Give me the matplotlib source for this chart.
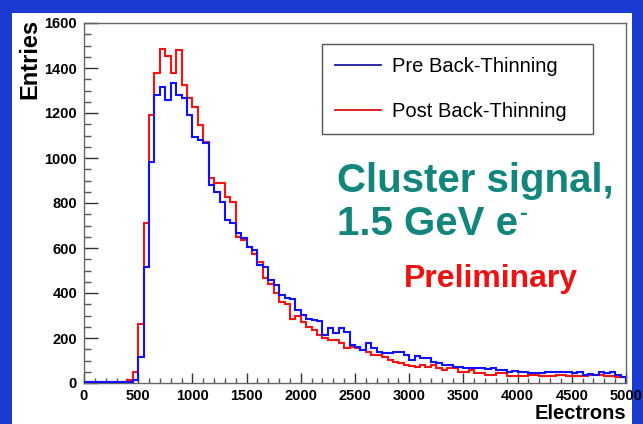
import matplotlib.pyplot as plt
from matplotlib.patches import Rectangle
from matplotlib.lines import Line2D
from matplotlib.ticker import MultipleLocator
import numpy as np

plt.rcParams["font.family"] = ["Liberation Sans", "DejaVu Sans"]

# histogram contents, 100 bins of 50 electrons from 0 to 5000
bin_width = 50
pre_counts = [
    3, 3, 3, 3, 3, 3, 3, 3, 5, 12,
    117, 517, 984, 1280, 1317, 1260, 1335, 1280, 1265, 1191,
    1095, 1080, 1065, 880, 850, 806, 724, 712, 665, 643,
    606, 591, 524, 517, 458, 436, 390, 376, 372, 324,
    302, 285, 280, 276, 213, 243, 221, 243, 228, 169,
    160, 147, 176, 154, 139, 132, 132, 139, 139, 124,
    102, 120, 110, 112, 95, 87, 80, 80, 73, 73,
    65, 65, 68, 65, 62, 66, 58, 60, 50, 52,
    50, 48, 43, 45, 43, 48, 50, 48, 48, 50,
    46, 48, 36, 38, 36, 48, 46, 48, 36, 25,
]
post_counts = [
    3, 3, 3, 3, 3, 3, 3, 3, 15, 50,
    262, 710, 1191, 1376, 1483, 1453, 1376, 1480, 1324, 1265,
    1225, 1147, 1073, 910, 887, 887, 828, 806, 650, 636,
    606, 575, 540, 465, 440, 400, 361, 350, 285, 300,
    272, 250, 236, 213, 199, 191, 191, 176, 154, 161,
    154, 147, 139, 124, 124, 117, 102, 95, 87, 80,
    76, 70, 80, 73, 80, 65, 58, 65, 65, 50,
    50, 58, 43, 43, 36, 36, 43, 43, 32, 32,
    29, 29, 36, 36, 32, 32, 32, 36, 36, 29,
    29, 32, 32, 36, 36, 36, 32, 32, 25, 25,
]
series_names = ["Pre Back-Thinning", "Post Back-Thinning"]

edges = np.arange(len(pre_counts) + 1) * bin_width

fig = plt.figure(figsize=(6.43, 4.24), dpi=100)
fig.patch.set_facecolor("#1a3ad2")
# white slide panel
fig.patches.append(Rectangle((12 / 643, 0), 620 / 643, 411 / 424,
                             transform=fig.transFigure, facecolor="white",
                             edgecolor="none", zorder=-5))

ax = fig.add_axes([84 / 643, 41 / 424, 542 / 643, 360 / 424])
ax.set_zorder(2)
ax.set_facecolor("white")

ax.stairs(post_counts, edges, color="#ff1010", linewidth=1.5, zorder=2)
ax.stairs(pre_counts, edges, color="#1010ff", linewidth=1.5, zorder=3)

ax.set_xlim(0, 5000)
ax.set_ylim(0, 1600)
ax.xaxis.set_major_locator(MultipleLocator(500))
ax.xaxis.set_minor_locator(MultipleLocator(100))
ax.yaxis.set_major_locator(MultipleLocator(200))
ax.yaxis.set_minor_locator(MultipleLocator(50))
ax.tick_params(axis="y", which="major", direction="in", length=10, width=1,
               color="#333333", pad=5, labelsize=10.5)
ax.tick_params(axis="y", which="minor", direction="in", length=5, width=1,
               color="#555555")
ax.tick_params(axis="x", which="major", direction="in", length=7, width=1,
               color="#333333", pad=4, labelsize=10.5)
ax.tick_params(axis="x", which="minor", direction="in", length=3.5, width=1,
               color="#555555")
for lab in ax.get_xticklabels() + ax.get_yticklabels():
    lab.set_fontweight("bold")
for sp in ax.spines.values():
    sp.set_color("#666666")
    sp.set_linewidth(1.0)

ax.set_ylabel("Entries", fontweight="bold", fontsize=17)
ax.yaxis.set_label_coords(-0.078, 0.9)
ax.set_xlabel("Electrons", fontweight="bold", fontsize=14.5, loc="right",
              labelpad=1)

handles = [Line2D([], [], color="#1a1aa0", linewidth=1.3),
           Line2D([], [], color="#e01010", linewidth=1.3)]
leg = ax.legend(handles, series_names, loc="upper left",
                bbox_to_anchor=(0.439, 0.689, 0.5, 0.253), mode="expand",
                borderaxespad=0, fancybox=False, framealpha=1,
                prop={"size": 14.5},
                handlelength=2.3, handletextpad=0.55, labelspacing=1.3,
                borderpad=0.65)
leg.get_frame().set_edgecolor("#555555")
leg.get_frame().set_linewidth(1.0)

teal = "#12857d"
ax.text(0.467, 0.615, "Cluster signal,", transform=ax.transAxes,
        color=teal, fontsize=29, fontweight="bold", va="top", ha="left")
t2 = ax.text(0.467, 0.495, "1.5 GeV e", transform=ax.transAxes,
             color=teal, fontsize=29, fontweight="bold", va="top", ha="left")
ax.annotate("-", xy=(1.0, 1.0), xycoords=t2, xytext=(1, 2),
            textcoords="offset points", color=teal, fontsize=17,
            fontweight="bold", va="top", ha="left")
ax.text(0.59, 0.29, "Preliminary", transform=ax.transAxes, color="#f01010",
        fontsize=23, fontweight="bold", va="center", ha="left")

fig.savefig("out.png", dpi=100, facecolor=fig.get_facecolor())
